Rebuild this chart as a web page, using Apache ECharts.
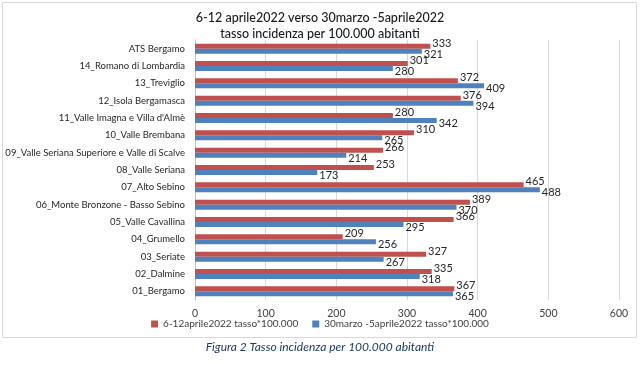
<!DOCTYPE html>
<html><head><meta charset="utf-8">
<script src="https://cdn.jsdelivr.net/npm/echarts@6/dist/echarts.min.js"></script>
<style>html,body{margin:0;padding:0;background:#fff}#c{width:640px;height:366px}</style>
</head><body><div id="c"></div>
<script>
const categories = ["ATS Bergamo","14_Romano di Lombardia","13_Treviglio","12_Isola Bergamasca","11_Valle Imagna e Villa d'Almè","10_Valle Brembana","09_Valle Seriana Superiore e Valle di Scalve","08_Valle Seriana","07_Alto Sebino","06_Monte Bronzone - Basso Sebino","05_Valle Cavallina","04_Grumello","03_Seriate","02_Dalmine","01_Bergamo"];
const seriesNames = ["6-12aprile2022 tasso*100.000","30marzo -5aprile2022 tasso*100.000"];
const aprile = [333,301,372,376,280,310,266,253,465,389,366,209,327,335,367];
const marzo = [321,280,409,394,342,265,214,173,488,370,295,256,267,318,365];
const xTicks = {min:0, max:600, interval:100};

const FONT = 'Lato';
const chart = echarts.init(document.getElementById('c'), null, {renderer:'canvas'});
chart.setOption({
  animation:false,
  textStyle:{fontFamily:FONT},
  title:{text:'6-12 aprile2022 verso 30marzo -5aprile2022\ntasso incidenza per 100.000 abitanti', left:'center', top:5,
    textStyle:{fontSize:12.5, fontWeight:500, color:'#1a1a1a', lineHeight:16, fontFamily:FONT}},
  graphic:[
    {type:'rect', shape:{x:2.5,y:2.5,width:634,height:335}, style:{fill:'none', stroke:'#d9d9d9', lineWidth:1}, z:-1},
    {type:'text', left:'center', top:341, style:{text:'Figura 2 Tasso incidenza per 100.000 abitanti', font:'italic 12px '+FONT, fill:'#1f3864'}}
  ],
  legend:{bottom:32, left:'center', itemWidth:7, itemHeight:7, itemGap:14, icon:'rect',
    textStyle:{fontSize:10, color:'#404040'}, data:seriesNames},
  grid:{left:195, right:21, top:40, bottom:66},
  xAxis:{type:'value', min:xTicks.min, max:xTicks.max, interval:xTicks.interval,
    axisLine:{show:false}, axisTick:{show:false},
    splitLine:{lineStyle:{color:'#d9d9d9'}},
    axisLabel:{fontSize:10.5, color:'#404040', margin:8}},
  yAxis:{type:'category', data:categories, inverse:true,
    axisLine:{lineStyle:{color:'#bfbfbf'}}, axisTick:{show:false},
    axisLabel:{fontSize:9.5, color:'#262626', margin:10}},
  series:[
    {name:seriesNames[0], type:'bar', data:aprile, barWidth:5, barGap:'0%',
      itemStyle:{color:'#c0504d'},
      label:{show:true, position:'right', distance:2, offset:[0,-3], fontSize:11, color:'#262626'}},
    {name:seriesNames[1], type:'bar', data:marzo, barWidth:5, barGap:'0%',
      itemStyle:{color:'#4f81bd'},
      label:{show:true, position:'right', distance:2, offset:[0,3], fontSize:11, color:'#262626'}}
  ]
});
</script></body></html>
